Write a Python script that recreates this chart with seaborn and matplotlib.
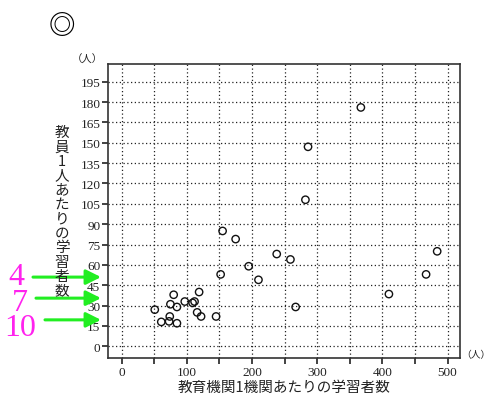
import matplotlib
matplotlib.use("Agg")
import matplotlib.pyplot as plt
import seaborn as sns
import pandas as pd

# 教育機関1機関あたりの学習者数 / 教員1人あたりの学習者数
x_students = [367, 286, 282, 155, 175, 238, 259, 195, 152, 210,
              484, 467, 410, 267, 80, 119, 75, 85, 97, 109,
              112, 51, 116, 122, 145, 74, 61, 73, 85]
y_per_teacher = [176, 147, 108, 85, 79, 68, 64, 59, 53, 49,
                 70, 53, 38.5, 29, 38, 40, 31, 29, 33, 32,
                 33, 27, 25, 22, 22, 22, 18, 18.4, 17]

x_ticks = list(range(0, 501, 50))
x_tick_labels = [str(v) if v % 100 == 0 else "" for v in x_ticks]
y_ticks = list(range(0, 196, 15))

ylabel_text = "教員1人あたりの学習者数"
xlabel_text = "教育機関1機関あたりの学習者数"
unit_text = "（人）"

notes = ["4", "7", "10"]
arrow_y = [51, 35.5, 19.5]  # where the green arrows point

df = pd.DataFrame({"x": x_students, "y": y_per_teacher})

sns.set_style("white")
plt.rcParams["font.family"] = ["Liberation Serif", "Noto Sans CJK JP", "DejaVu Sans"]

W, H = 491, 402
fig = plt.figure(figsize=(W / 100, H / 100), dpi=100)
ax = fig.add_axes([108 / W, 1 - 359 / H, (460 - 108) / W, (359 - 65) / H])

sns.scatterplot(data=df, x="x", y="y", ax=ax, marker="o", s=28,
                facecolor="none", edgecolor="#111111", linewidth=1.0, zorder=3)

ax.set_xlim(-20.7, 519)
ax.set_ylim(-8.6, 208)
ax.set_xticks(x_ticks)
ax.set_xticklabels(x_tick_labels)
ax.set_yticks(y_ticks)
ax.set_xlabel("")
ax.set_ylabel("")
ax.grid(True, linestyle=(0, (1, 2)), color="#222222", linewidth=0.9)
ax.tick_params(axis="both", direction="out", length=4, width=1.2, pad=1.5,
               labelsize=9.5, colors="#222222", left=True, bottom=True)
for sp in ax.spines.values():
    sp.set_color("#333333")
    sp.set_linewidth(1.2)

# units
fig.text(87 / W, 1 - 60 / H, unit_text, fontsize=7.5, ha="center", va="center",
         family=["Noto Sans CJK JP"], color="#222222")
fig.text(461 / W, 1 - 355 / H, unit_text, fontsize=7, ha="left", va="center",
         family=["Noto Sans CJK JP"], color="#222222")

# x label
fig.text(284 / W, 1 - 388 / H, xlabel_text, fontsize=10.5, ha="center", va="center",
         family=["Noto Sans CJK JP"], color="#222222")

# vertical y label, one character per line
step = (291.7 - 133) / (len(ylabel_text) - 1)
for i, ch in enumerate(ylabel_text):
    fig.text(62 / W, 1 - (133 + i * step) / H, ch, fontsize=10.5, ha="center",
             va="center", family=["Noto Sans CJK JP"], color="#222222")

# ◎ mark
fig.text(62 / W, 1 - 27 / H, "◎", fontsize=19, ha="center", va="center",
         family=["Noto Sans CJK JP"], color="black", fontweight="bold")

# magenta numbers with green arrows
note_x = [16.5, 20, 20.5]
note_py = [278, 304, 329]
arrow_start = [33, 36, 45]
for lab, nx, npy, sx, vy in zip(notes, note_x, note_py, arrow_start, arrow_y):
    fig.text(nx / W, 1 - npy / H, lab, fontsize=23, ha="center", va="center",
             color="#ff22ee", family=["Liberation Serif"])
    ty = ax.transData.transform((0, vy))[1]
    ax.annotate("", xy=(101 / W, ty / H), xycoords="figure fraction",
                xytext=(sx / W, ty / H), textcoords="figure fraction",
                arrowprops=dict(arrowstyle="-|>,head_length=0.9,head_width=0.45",
                                color="#22ee22", lw=2.2, shrinkA=0, shrinkB=0),
                annotation_clip=False)

fig.savefig("out.png", dpi=100)
